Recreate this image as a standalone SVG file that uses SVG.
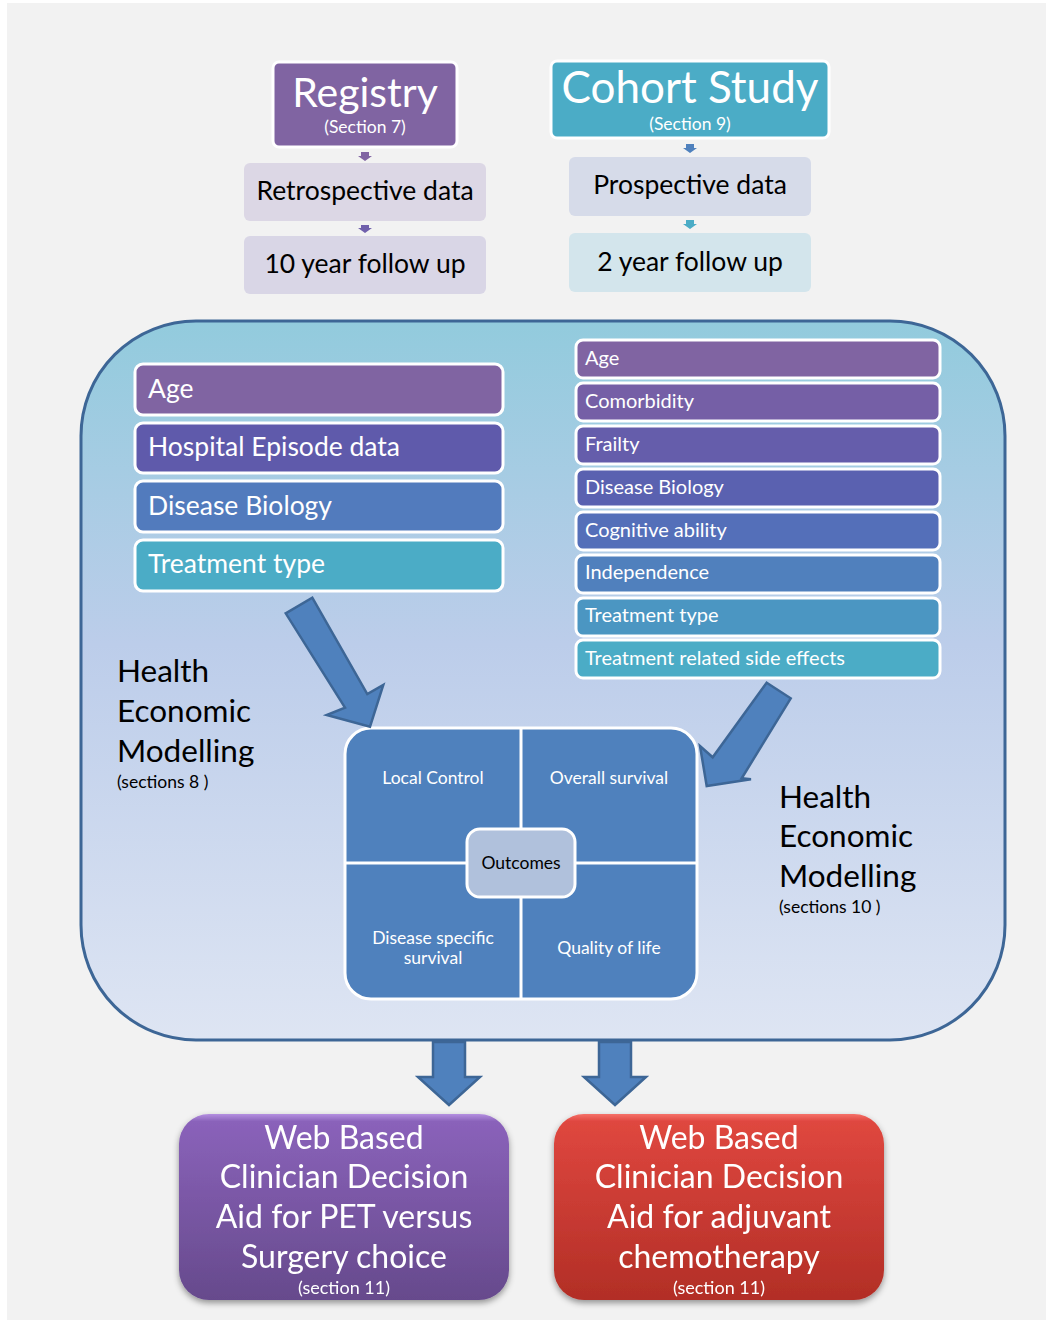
<svg xmlns="http://www.w3.org/2000/svg" width="1046" height="1321" viewBox="0 0 1046 1321">
<defs>
<linearGradient id="bigGrad" x1="0" y1="0" x2="0" y2="1">
<stop offset="0" stop-color="#92cbdd"/>
<stop offset="0.45" stop-color="#bccdea"/>
<stop offset="1" stop-color="#dee5f3"/>
</linearGradient>
<linearGradient id="purpGrad" x1="0" y1="0" x2="0" y2="1">
<stop offset="0" stop-color="#b48fe0"/>
<stop offset="0.04" stop-color="#8a62ba"/>
<stop offset="1" stop-color="#664a8c"/>
</linearGradient>
<linearGradient id="redGrad" x1="0" y1="0" x2="0" y2="1">
<stop offset="0" stop-color="#f57068"/>
<stop offset="0.04" stop-color="#df473f"/>
<stop offset="1" stop-color="#b22e26"/>
</linearGradient>
<filter id="shadow" x="-10%" y="-10%" width="120%" height="125%">
<feDropShadow dx="0" dy="3" stdDeviation="3" flood-color="#000" flood-opacity="0.4"/>
</filter>
</defs>
<style>
text{font-family:Lato,"Open Sans","Liberation Sans",sans-serif}
.w{fill:#fff}
.k{fill:#000}
.mid{text-anchor:middle}
.bar{stroke:#fff;stroke-width:3}
.arrow{fill:#4f81bd;stroke:#3d6696;stroke-width:2.5;stroke-linejoin:miter}
</style>
<rect x="0" y="0" width="1046" height="1321" fill="#fff"/>
<rect x="7" y="3" width="1039" height="1317" fill="#f2f2f2"/>

<g id="container">
<rect x="81" y="321" width="924" height="719" rx="115" ry="115" fill="url(#bigGrad)" stroke="#3d6696" stroke-width="3"/>
</g>

<g id="registry">
<rect x="273" y="62" width="184" height="85" rx="6" fill="#8064a2" stroke="#fff" stroke-width="3"/>
<text x="365" y="107" class="w mid" font-size="41">Registry</text>
<text x="365" y="133" class="w mid" font-size="17.5">(Section 7)</text>
</g>
<g id="cohort">
<rect x="551" y="61" width="278" height="77" rx="6" fill="#4bacc6" stroke="#fff" stroke-width="3"/>
<text x="690" y="103" class="w mid" font-size="44">Cohort Study</text>
<text x="690" y="130" class="w mid" font-size="17.5">(Section 9)</text>
</g>
<g id="retro">
<rect x="244" y="163" width="242" height="58" rx="6" fill="#dcd7e5"/>
<text x="365" y="200" class="k mid" font-size="26.5">Retrospective data</text>
</g>
<g id="tenyear">
<rect x="244" y="236" width="242" height="58" rx="6" fill="#d9d6e6"/>
<text x="365" y="273" class="k mid" font-size="26.5">10 year follow up</text>
</g>
<g id="prosp">
<rect x="569" y="157" width="242" height="59" rx="6" fill="#d6dbe9"/>
<text x="690" y="194" class="k mid" font-size="26.5">Prospective data</text>
</g>
<g id="twoyear">
<rect x="569" y="233" width="242" height="59" rx="6" fill="#d3e5ec"/>
<text x="690" y="271" class="k mid" font-size="26.5">2 year follow up</text>
</g>

<g id="left-vars">
<rect class="bar" x="135" y="364" width="368" height="51" rx="8" fill="#8064a2"/>
<text x="148" y="398" class="w" font-size="26.5">Age</text>
<rect class="bar" x="135" y="423" width="368" height="50" rx="8" fill="#5f5aab"/>
<text x="148" y="456" class="w" font-size="26.5">Hospital Episode data</text>
<rect class="bar" x="135" y="481" width="368" height="51" rx="8" fill="#527bbd"/>
<text x="148" y="515" class="w" font-size="26.5">Disease Biology</text>
<rect class="bar" x="135" y="540" width="368" height="51" rx="8" fill="#4bacc6"/>
<text x="148" y="573" class="w" font-size="26.5">Treatment type</text>
</g>

<g id="right-vars">
<rect class="bar" x="576" y="340" width="364" height="38" rx="7" fill="#8064a2"/>
<text x="585" y="365" class="w" font-size="20">Age</text>
<rect class="bar" x="576" y="383" width="364" height="38" rx="7" fill="#755fa6"/>
<text x="585" y="408" class="w" font-size="20">Comorbidity</text>
<rect class="bar" x="576" y="426" width="364" height="38" rx="7" fill="#655dab"/>
<text x="585" y="451" class="w" font-size="20">Frailty</text>
<rect class="bar" x="576" y="469" width="364" height="38" rx="7" fill="#5a61b0"/>
<text x="585" y="494" class="w" font-size="20">Disease Biology</text>
<rect class="bar" x="576" y="512" width="364" height="38" rx="7" fill="#546fb9"/>
<text x="585" y="537" class="w" font-size="20">Cognitive ability</text>
<rect class="bar" x="576" y="555" width="364" height="38" rx="7" fill="#5080bd"/>
<text x="585" y="579" class="w" font-size="20">Independence</text>
<rect class="bar" x="576" y="598" width="364" height="38" rx="7" fill="#4b96c2"/>
<text x="585" y="622" class="w" font-size="20">Treatment type</text>
<rect class="bar" x="576" y="640" width="364" height="38" rx="7" fill="#4bacc6"/>
<text x="585" y="665" class="w" font-size="20">Treatment related side effects</text>
</g>

<g id="hem-left">
<text x="117" y="682" class="k" font-size="31.5">Health</text>
<text x="117" y="722" class="k" font-size="31.5">Economic</text>
<text x="117" y="762" class="k" font-size="31.5">Modelling</text>
<text x="117" y="788" class="k" font-size="17.5">(sections 8 )</text>
</g>
<g id="hem-right">
<text x="779" y="808" class="k" font-size="31.5">Health</text>
<text x="779" y="847" class="k" font-size="31.5">Economic</text>
<text x="779" y="887" class="k" font-size="31.5">Modelling</text>
<text x="779" y="913" class="k" font-size="17.5">(sections 10 )</text>
</g>

<g id="outcomes">
<rect x="345" y="728" width="352" height="271" rx="26" fill="#4f81bd" stroke="#fff" stroke-width="3"/>
<line x1="521" y1="728" x2="521" y2="999" stroke="#fff" stroke-width="3"/>
<line x1="345" y1="863" x2="697" y2="863" stroke="#fff" stroke-width="3"/>
<text x="433" y="784" class="w mid" font-size="17.5">Local Control</text>
<text x="609" y="784" class="w mid" font-size="17.5">Overall survival</text>
<text x="433" y="944" class="w mid" font-size="17.5">Disease specific</text>
<text x="433" y="964" class="w mid" font-size="17.5">survival</text>
<text x="609" y="954" class="w mid" font-size="17.5">Quality of life</text>
<rect x="467" y="829" width="108" height="68" rx="13" fill="#b0c1dc" stroke="#fff" stroke-width="3"/>
<text x="521" y="869" class="k mid" font-size="17.5">Outcomes</text>
</g>

<g id="web-pet" filter="url(#shadow)">
<rect x="179" y="1114" width="330" height="186" rx="30" fill="url(#purpGrad)"/>
<text x="344" y="1149" class="w mid" font-size="32">Web Based</text>
<text x="344" y="1188" class="w mid" font-size="32">Clinician Decision</text>
<text x="344" y="1228" class="w mid" font-size="32">Aid for PET versus</text>
<text x="344" y="1268" class="w mid" font-size="32">Surgery choice</text>
<text x="344" y="1294" class="w mid" font-size="18">(section 11)</text>
</g>
<g id="web-chemo" filter="url(#shadow)">
<rect x="554" y="1114" width="330" height="186" rx="30" fill="url(#redGrad)"/>
<text x="719" y="1149" class="w mid" font-size="32">Web Based</text>
<text x="719" y="1188" class="w mid" font-size="32">Clinician Decision</text>
<text x="719" y="1228" class="w mid" font-size="32">Aid for adjuvant</text>
<text x="719" y="1268" class="w mid" font-size="32">chemotherapy</text>
<text x="719" y="1294" class="w mid" font-size="18">(section 11)</text>
</g>

<g id="connectors">
<path d="M361 152h8v4h3l-7 5l-7-5h3z" fill="#8064a2"/>
<path d="M361 225h8v3h3l-7 5l-7-5h3z" fill="#7060ac"/>
<path d="M686 144h8v4h3l-7 5l-7-5h3z" fill="#4f81bd"/>
<path d="M686 220h8v4h3l-7 5l-7-5h3z" fill="#4bacc6"/>
<path class="arrow" d="M285.7 613.3L312.3 597.7L367.3 694L383.3 685L370 726.7L326.7 715L345 707.7Z"/>
<path class="arrow" d="M766.7 682.7L790.7 698.3L741.7 778.3L751 779.3L706.7 786L700 746L712.7 757.3Z"/>
<path class="arrow" d="M433 1042H465V1077H480L449 1105L418 1077H433Z"/>
<path class="arrow" d="M599 1042H631V1077H646L615 1105L584 1077H599Z"/>
</g>
</svg>
